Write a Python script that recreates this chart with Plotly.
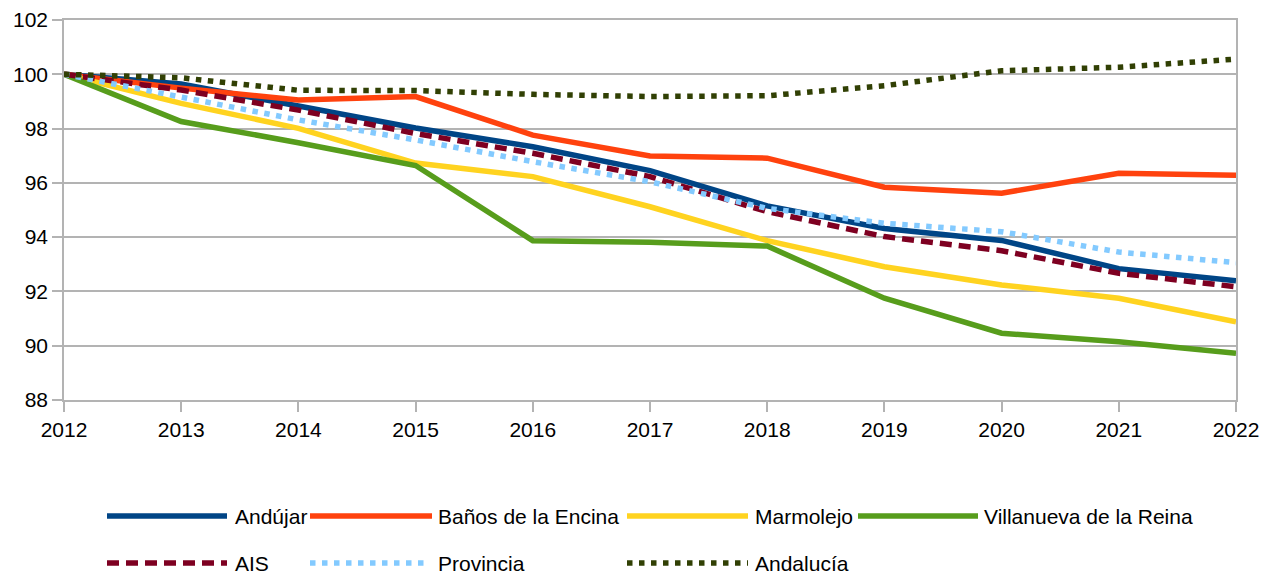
import plotly.graph_objects as go

years = [2012, 2013, 2014, 2015, 2016, 2017, 2018, 2019, 2020, 2021, 2022]

andujar = [100, 99.64, 98.83, 98.02, 97.33, 96.45, 95.15, 94.32, 93.88, 92.84, 92.39]
banos = [100, 99.49, 99.05, 99.18, 97.76, 96.99, 96.91, 95.84, 95.62, 96.35, 96.28]
marmolejo = [100, 98.93, 98.01, 96.73, 96.23, 95.12, 93.87, 92.91, 92.24, 91.75, 90.88]
villanueva = [100, 98.26, 97.48, 96.64, 93.87, 93.81, 93.67, 91.75, 90.46, 90.15, 89.72]
ais = [100, 99.42, 98.68, 97.82, 97.09, 96.23, 94.94, 94.02, 93.5, 92.67, 92.17]
provincia = [100, 99.18, 98.32, 97.58, 96.78, 96.04, 95.06, 94.51, 94.2, 93.45, 93.06]
andalucia = [100, 99.87, 99.41, 99.4, 99.26, 99.18, 99.21, 99.58, 100.13, 100.26, 100.56]

names = ["Andújar", "Baños de la Encina", "Marmolejo", "Villanueva de la Reina",
         "AIS", "Provincia", "Andalucía"]
series = [andujar, banos, marmolejo, villanueva, ais, provincia, andalucia]
colors = ["#004586", "#ff420e", "#ffd320", "#579d1c", "#7e0021", "#83caff", "#314004"]
dashes = ["solid", "solid", "solid", "solid", "12px,7px", "5.5px,6.5px", "5.5px,6.5px"]

FONT = "Liberation Sans, Arial, sans-serif"
FS = 21
LW = 5.5

fig = go.Figure()
for n, s, c, d in zip(names, series, colors, dashes):
    fig.add_trace(go.Scatter(x=years, y=s, name=n, mode="lines",
                             line=dict(color=c, width=LW, dash=d),
                             showlegend=False, hoverinfo="x+y+name"))

# Manual legend (wide line symbols like the reference)
W, H = 1261, 574
ml, mr, mt, mb = 64, 25, 20, 174
pw, ph = W - ml - mr, H - mt - mb

def px2paper_x(px):
    return (px - ml) / pw

def px2paper_y(py):
    return (H - mb - py) / ph

legend_pos = [
    (107, 227, 234, 516), (310, 432, 437, 516), (627, 748, 754, 516), (858, 978, 983, 516),
    (107, 227, 234, 563), (310, 430, 437, 563), (627, 748, 754, 563),
]
shapes = []
annotations = []
for (x0, x1, tx, y), n, c, d in zip(legend_pos, names, colors, dashes):
    shapes.append(dict(type="line", xref="paper", yref="paper",
                       x0=px2paper_x(x0), x1=px2paper_x(x1),
                       y0=px2paper_y(y), y1=px2paper_y(y),
                       line=dict(color=c, width=LW, dash=d)))
    annotations.append(dict(xref="paper", yref="paper", x=px2paper_x(tx), y=px2paper_y(y),
                            text=n, showarrow=False, xanchor="left", yanchor="middle",
                            borderpad=0,
                            font=dict(family=FONT, size=FS, color="#000000")))

fig.update_layout(
    width=W, height=H, autosize=False,
    margin=dict(l=ml, r=mr, t=mt, b=mb, autoexpand=False),
    paper_bgcolor="white", plot_bgcolor="white",
    font=dict(family=FONT, size=FS, color="#000000"),
    shapes=shapes, annotations=annotations,
    xaxis=dict(range=[2012, 2022], tickmode="array", tickvals=years,
               ticktext=[str(y) for y in years], automargin=False,
               showgrid=False, zeroline=False,
               showline=True, linecolor="#b3b3b3", linewidth=1.5, mirror=True,
               ticks="outside", ticklen=10, tickcolor="#b3b3b3", tickwidth=1.5,
               tickfont=dict(family=FONT, size=FS, color="#000000")),
    yaxis=dict(range=[88, 102], dtick=2, tick0=88, automargin=False,
               showgrid=True, gridcolor="#b3b3b3", gridwidth=1.5, zeroline=False,
               showline=True, linecolor="#b3b3b3", linewidth=1.5, mirror=True,
               ticks="outside", ticklen=10, tickcolor="#b3b3b3", tickwidth=1.5,
               tickfont=dict(family=FONT, size=FS, color="#000000")),
)

fig.write_html("out.html",
               config={"displayModeBar": False, "responsive": False},
               post_script="document.body.style.margin='0';document.body.style.overflow='hidden';")
